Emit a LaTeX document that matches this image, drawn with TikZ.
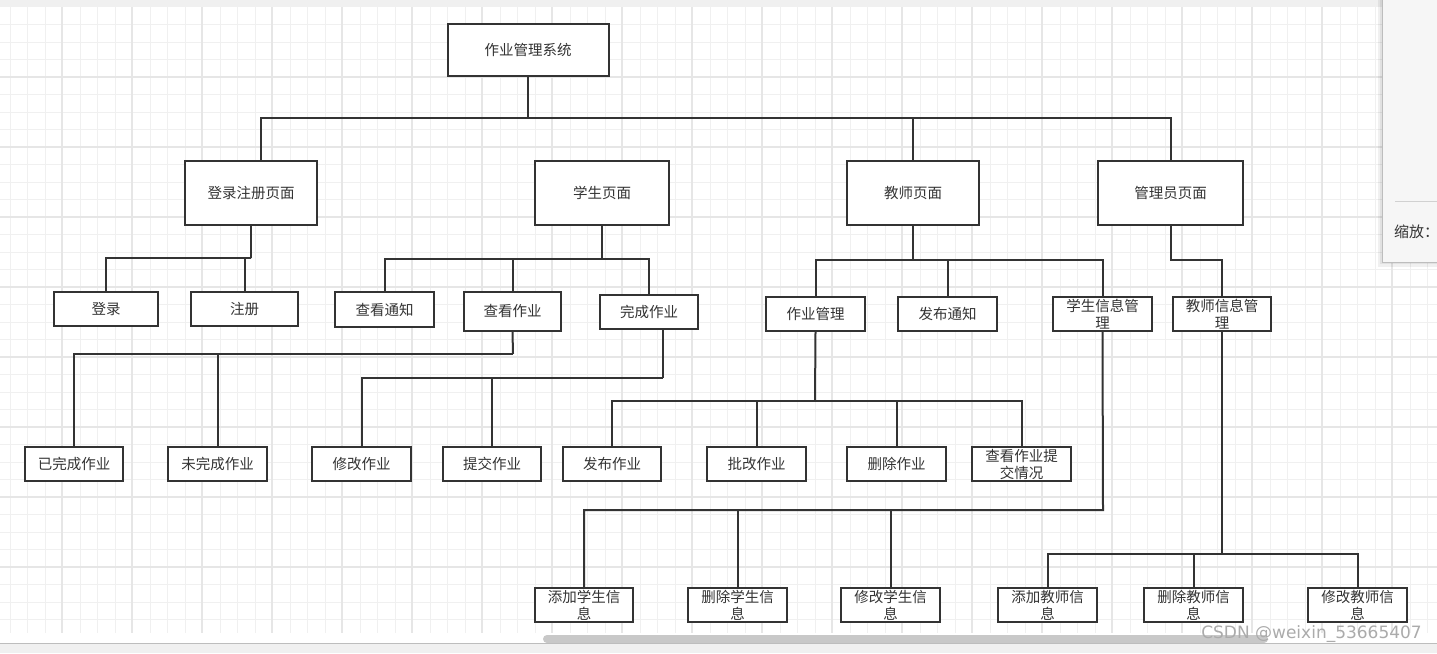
\documentclass[tikz,border=0pt]{standalone}
\usepackage{fontspec}
\usepackage{xcolor}
\newfontfamily\cjk{Noto Sans CJK SC}
\newfontfamily\marksans{DejaVu Sans}
\definecolor{Ink}{HTML}{333333}
\definecolor{GridMinor}{HTML}{F0F0F0}
\definecolor{GridMajor}{HTML}{E6E6E6}
\definecolor{Chrome}{HTML}{F0F0F0}
\definecolor{Panel}{HTML}{F6F6F6}
\definecolor{Edge}{HTML}{BDBDBD}
\definecolor{Thumb}{HTML}{C8C8C8}
\definecolor{Mark}{HTML}{ABABAB}
\tikzset{
  box/.style={
    draw=Ink,line width=2pt,fill=white,text=Ink,
    inner sep=0pt,align=center,
    font=\cjk\fontsize{14.5pt}{17pt}\selectfont
  },
  page/.style={box,minimum width=132pt,minimum height=64pt},
  leaf/.style={box,minimum width=99pt,minimum height=34pt},
  link/.style={draw=Ink,line width=2pt},
  minor/.style={draw=GridMinor,line width=1pt},
  major/.style={draw=GridMajor,line width=1.3pt}
}

\begin{document}
\begin{tikzpicture}[x=1pt,y=-1pt]
  \useasboundingbox (0,0) rectangle (1437,653);
  \fill[white] (0,0) rectangle (1437,653);
  \fill[Chrome] (0,0) rectangle (1437,7);
  % canvas grid
  \foreach \i in {0,...,81}
    \draw[minor] ({10+17.5*\i},7) -- ({10+17.5*\i},633);
  \foreach \j in {1,...,35}
    \draw[minor] (0,{7+17.5*\j}) -- (1437,{7+17.5*\j});
  \foreach \i in {0,...,19}
    \draw[major] ({62+70*\i},7) -- ({62+70*\i},633);
  \foreach \j in {1,...,8}
    \draw[major] (0,{7+70*\j}) -- (1437,{7+70*\j});

  \node[box,minimum width=161pt,minimum height=52pt] (root) at (528,50) {作业管理系统};

  \node[page] (pLogin) at (251,193) {登录注册页面};
  \node[page,minimum width=134pt] (pStudent) at (602,193) {学生页面};
  \node[page] (pTeacher) at (913,193) {教师页面};
  \node[page,minimum width=145pt] (pAdmin) at (1170.5,193) {管理员页面};

  \node[leaf,minimum width=104pt] (login) at (106,309) {登录};
  \node[leaf,minimum width=107pt] (reg) at (244.5,309) {注册};
  \node[leaf,minimum height=35pt] (notice) at (384.5,309.5) {查看通知};
  \node[leaf,minimum width=97pt,minimum height=39pt] (viewHw) at (512.5,311.5) {查看作业};
  \node[leaf,minimum width=98pt] (finishHw) at (649,312) {完成作业};
  \node[leaf] (hwMgr) at (815.5,314) {作业管理};
  \node[leaf] (pubNotice) at (947.5,314) {发布通知};
  \node[leaf] (stuMgr) at (1102.5,314) {学生信息管\\理};
  \node[leaf,minimum width=98pt] (teaMgr) at (1222,314) {教师信息管\\理};

  \node[leaf,minimum width=98pt] (done) at (74,464) {已完成作业};
  \node[leaf] (undone) at (217.5,464) {未完成作业};
  \node[leaf] (editHw) at (361.5,464) {修改作业};
  \node[leaf,minimum width=98pt] (submitHw) at (492,464) {提交作业};
  \node[leaf,minimum width=98pt] (pubHw) at (612,464) {发布作业};
  \node[leaf] (gradeHw) at (756.5,464) {批改作业};
  \node[leaf] (delHw) at (896.5,464) {删除作业};
  \node[leaf] (checkHw) at (1021.5,464) {查看作业提\\交情况};

  \node[leaf,minimum width=98pt] (addStu) at (584,605) {添加学生信\\息};
  \node[leaf] (delStu) at (737.5,605) {删除学生信\\息};
  \node[leaf] (editStu) at (890.5,605) {修改学生信\\息};
  \node[leaf] (addTea) at (1047.5,605) {添加教师信\\息};
  \node[leaf] (delTea) at (1193.5,605) {删除教师信\\息};
  \node[leaf] (editTea) at (1357.5,605) {修改教师信\\息};

  % bus junctions
  \coordinate (jRoot) at (528,118);
  \coordinate (jLogin) at (251,258);
  \coordinate (jStudent) at (602,259);
  \coordinate (jTeacher) at (913,260);
  \coordinate (jView) at (513,354);
  \coordinate (jFinish) at (663,378);
  \coordinate (jHwMgr) at (815,401);
  \coordinate (jStuMgr) at (1103,510);
  \coordinate (jTeaMgr) at (1222,554);

  \draw[link] (root.south) -- (jRoot);
  \draw[link] ([xshift=10pt]pLogin.north) |- (jRoot -| pAdmin.north) -- (pAdmin.north);
  \draw[link] (pTeacher.north) -- (pTeacher.north |- jRoot);

  \draw[link] (pLogin.south) -- (jLogin);
  \draw[link] (login.north) |- (jLogin) -| (reg.north);

  \draw[link] (pStudent.south) -- (jStudent);
  \draw[link] (notice.north) |- (jStudent) -| (finishHw.north);
  \draw[link] (viewHw.north) -- (viewHw.north |- jStudent);

  \draw[link] (viewHw.south) -- (jView);
  \draw[link] (done.north) |- (jView);
  \draw[link] (undone.north) -- (undone.north |- jView);

  \draw[link] ([xshift=14pt]finishHw.south) -- (jFinish);
  \draw[link] (editHw.north) |- (jFinish);
  \draw[link] (submitHw.north) -- (submitHw.north |- jFinish);

  \draw[link] (pTeacher.south) -- (jTeacher);
  \draw[link] (hwMgr.north) |- (jTeacher) -| (stuMgr.north);
  \draw[link] (pubNotice.north) -- (pubNotice.north |- jTeacher);
  \draw[link] (pAdmin.south) -- ++(0,34) -| (teaMgr.north);

  \draw[link] (hwMgr.south) -- (jHwMgr);
  \draw[link] (pubHw.north) |- (jHwMgr) -| (checkHw.north);
  \foreach \c in {gradeHw,delHw}
    \draw[link] (\c.north) -- (\c.north |- jHwMgr);

  \draw[link] (stuMgr.south) -- (jStuMgr) -| (addStu.north);
  \foreach \c in {delStu,editStu}
    \draw[link] (\c.north) -- (\c.north |- jStuMgr);

  \draw[link] (teaMgr.south) -- (jTeaMgr);
  \draw[link] (addTea.north) |- (jTeaMgr) -| (editTea.north);
  \draw[link] (delTea.north) -- (delTea.north |- jTeaMgr);

  % editor chrome
  \fill[black,opacity=0.06] (1378,0) rectangle (1437,267);
  \fill[black,opacity=0.06] (1380,0) rectangle (1437,264);
  \filldraw[fill=Panel,draw=Edge,line width=1pt] (1382,-2) rectangle (1440,262);
  \draw[Edge!70,line width=1pt] (1395,201) -- (1437,201);
  \node[anchor=west,inner sep=0pt,text=Ink,font=\cjk\fontsize{15pt}{17pt}\selectfont]
    (zoomLabel) at (1394,232) {缩放：};

  \fill[Thumb,rounded corners=4pt] (543,635) rectangle (1268,643);
  \fill[Chrome] (0,643) rectangle (1437,653);
  \draw[Edge,line width=1pt] (0,643) -- (1437,643);
  \node[anchor=east,inner sep=0pt,text=Mark,font=\marksans\fontsize{17pt}{19pt}\selectfont]
    (mark) at (1422,634) {CSDN @weixin\_53665407};
\end{tikzpicture}
\end{document}
